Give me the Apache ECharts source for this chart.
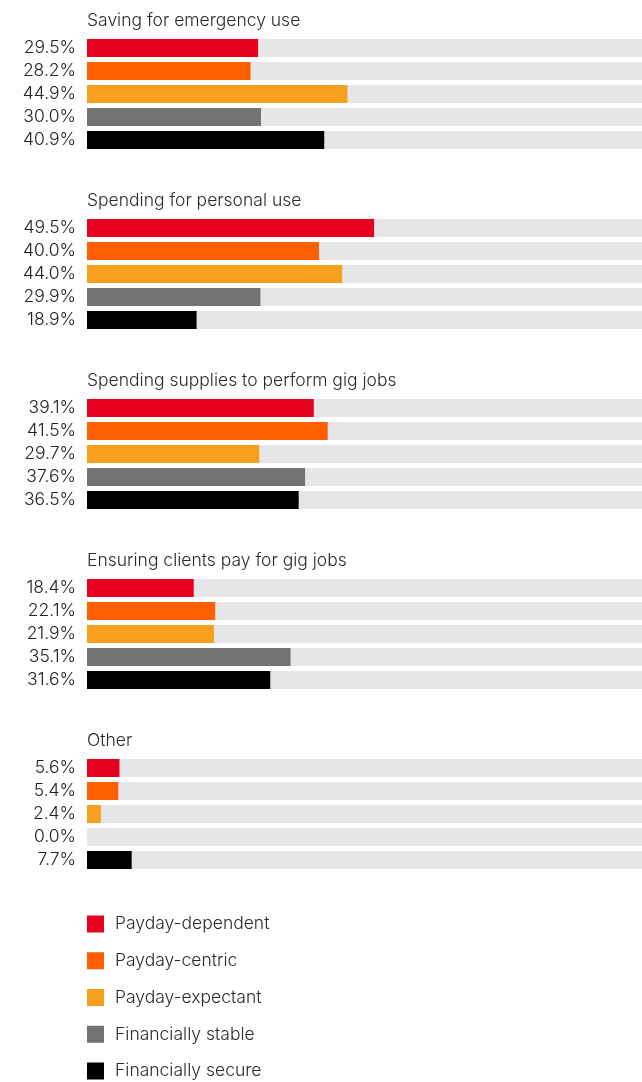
<!DOCTYPE html>
<html>
<head>
<meta charset="utf-8">
<script src="https://cdn.jsdelivr.net/npm/echarts@6/dist/echarts.min.js"></script>
<style>html,body{margin:0;padding:0;background:#fff}#c{width:642px;height:1082px}</style>
</head>
<body>
<div id="c"></div>
<script>
const groups = ['Saving for emergency use', 'Spending for personal use', 'Spending supplies to perform gig jobs', 'Ensuring clients pay for gig jobs', 'Other'];
const segments = ['Payday-dependent', 'Payday-centric', 'Payday-expectant', 'Financially stable', 'Financially secure'];
const colors = ['#e8001f', '#ff5f00', '#f7a020', '#737373', '#000000'];
const saving = [29.5, 28.2, 44.9, 30.0, 40.9];
const personal = [49.5, 40.0, 44.0, 29.9, 18.9];
const supplies = [39.1, 41.5, 29.7, 37.6, 36.5];
const clients = [18.4, 22.1, 21.9, 35.1, 31.6];
const other = [5.6, 5.4, 2.4, 0.0, 7.7];
const groupValues = [saving, personal, supplies, clients, other];

const FONT = 'Inter';
const chart = echarts.init(document.getElementById('c'), null, {renderer: 'canvas'});
const grids = [], xAxes = [], yAxes = [], series = [], titles = [];
groupValues.forEach((vals, g) => {
  const top = 36.5 + 180 * g;
  grids.push({left: 87, width: 580, top: top, height: 115, outerBoundsMode: 'none', containLabel: false});
  xAxes.push({type: 'value', gridIndex: g, min: 0, max: 100, show: false});
  yAxes.push({type: 'category', gridIndex: g, inverse: true, data: segments, show: false});
  titles.push({text: groups[g], left: 87, top: top - 25, padding: 0,
    textStyle: {fontFamily: FONT, fontSize: 17.5, fontWeight: 300, color: '#2a2a2a'}});
  segments.forEach((name, s) => {
    series.push({
      type: 'bar', name: name, xAxisIndex: g, yAxisIndex: g,
      barWidth: 18, barGap: '-100%',
      showBackground: s === 0,
      backgroundStyle: {color: '#e5e6e8'},
      itemStyle: {color: colors[s]},
      label: {show: true, position: 'left', distance: 11,
        fontFamily: FONT, fontSize: 17.5, fontWeight: 300, color: '#222',
        formatter: p => p.value.toFixed(1) + '%'},
      silent: true,
      animation: false,
      data: vals.map((v, i) => i === s ? v : '-')
    });
  });
});

chart.setOption({
  animation: false,
  title: titles,
  grid: grids,
  xAxis: xAxes,
  yAxis: yAxes,
  legend: {
    orient: 'vertical', left: 87, top: 915, padding: 0, height: 170,
    icon: 'rect', itemWidth: 17, itemHeight: 17, itemGap: 18.75,
    selectedMode: false,
    data: segments,
    textStyle: {fontFamily: FONT, fontSize: 17.5, fontWeight: 300, color: '#2a2a2a', padding: [0, 0, 0, 6]}
  },
  series: series
});
</script>
</body>
</html>
